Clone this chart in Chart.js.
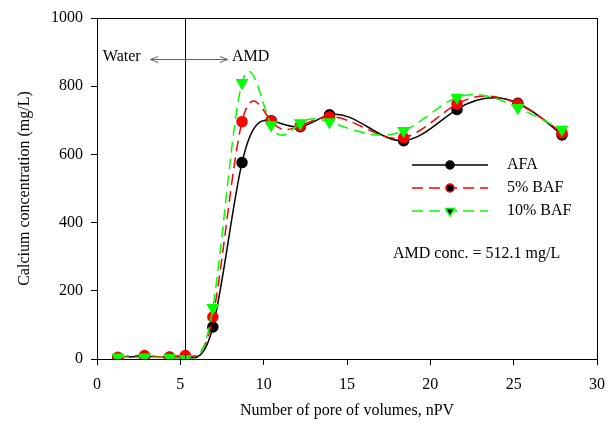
<!DOCTYPE html>
<html>
<head>
<meta charset="utf-8">
<script src="https://cdn.jsdelivr.net/npm/chart.js@4/dist/chart.umd.min.js"></script>
<style>
  html, body { margin: 0; padding: 0; background: #fff; }
  #wrap { width: 615px; height: 428px; position: relative; }
</style>
</head>
<body>
<div id="wrap"><canvas id="calciumChart"></canvas></div>
<script>
// pore volumes sampled
const nPV = [1.25, 2.85, 4.35, 5.3, 6.95, 8.7, 10.45, 12.2, 13.95, 18.4, 21.6, 25.25, 27.9];
// calcium concentration (mg/L)
const afa   = [3, 8, 5, 6, 94, 576, 699, 681, 716, 640, 732, 750, 657];
const baf5  = [5, 10, 6, 10, 123, 696, 697, 684, 710, 649, 748, 748, 663];
const baf10 = [5, 5, 4, 0, 150, 810, 686, 692, 695, 669, 767, 737, 673];

const seriesNames = ['AFA', '5% BAF', '10% BAF'];
const xTicks = [0, 5, 10, 15, 20, 25, 30];
const yTicks = [0, 200, 400, 600, 800, 1000];

const switchPV = 5.3;       // water -> AMD switch
const amdConc = 512.1;

const FONT = 'Liberation Serif, Times New Roman, serif';

function toPoints(ys) {
  return nPV.map((x, i) => ({ x: x, y: ys[i] }));
}

// first derivatives of a natural cubic spline through (xs, ys)
function splineSlopes(xs, ys) {
  const n = xs.length;
  const h = [], d = [];
  for (let i = 0; i < n - 1; i++) {
    h.push(xs[i + 1] - xs[i]);
    d.push((ys[i + 1] - ys[i]) / h[i]);
  }
  // solve for second derivatives, M[0] = M[n-1] = 0
  const M = new Array(n).fill(0);
  const a = [], b = [], c = [], r = [];
  for (let i = 1; i < n - 1; i++) {
    a.push(h[i - 1]);
    b.push(2 * (h[i - 1] + h[i]));
    c.push(h[i]);
    r.push(6 * (d[i] - d[i - 1]));
  }
  const m = a.length;
  for (let i = 1; i < m; i++) {
    const w = a[i] / b[i - 1];
    b[i] -= w * c[i - 1];
    r[i] -= w * r[i - 1];
  }
  for (let i = m - 1; i >= 0; i--) {
    M[i + 1] = (r[i] - (i < m - 1 ? c[i] * M[i + 2] : 0)) / b[i];
  }
  const s = [];
  for (let i = 0; i < n - 1; i++) {
    s.push(d[i] - h[i] * (2 * M[i] + M[i + 1]) / 6);
  }
  s.push(d[n - 2] + h[n - 2] * (M[n - 2] + 2 * M[n - 1]) / 6);
  return s;
}

// replace chart.js control points with natural spline ones
const naturalSpline = {
  id: 'naturalSpline',
  beforeDatasetDraw(chart, args) {
    const meta = args.meta;
    const line = meta.dataset;
    const pts = meta.data;
    if (!line || pts.length < 3) return;
    line.updateControlPoints(chart.chartArea, 'x');
    const slopes = splineSlopes(pts.map(p => p.x), pts.map(p => p.y));
    pts.forEach((p, i) => {
      const back = i > 0 ? (p.x - pts[i - 1].x) / 3 : 0;
      const fwd = i < pts.length - 1 ? (pts[i + 1].x - p.x) / 3 : 0;
      p.cp1x = p.x - back;
      p.cp1y = p.y - slopes[i] * back;
      p.cp2x = p.x + fwd;
      p.cp2y = p.y + slopes[i] * fwd;
    });
    line._path = undefined;
  }
};

const datasets = [
  {
    label: seriesNames[0],
    data: toPoints(afa),
    borderColor: '#000000',
    backgroundColor: '#000000',
    borderWidth: 1.5,
    pointStyle: 'circle',
    pointRadius: 5,
    order: 3
  },
  {
    label: seriesNames[1],
    data: toPoints(baf5),
    borderColor: '#ff0000',
    backgroundColor: '#ff0000',
    borderWidth: 1.5,
    borderDash: [11, 6],
    pointStyle: 'circle',
    pointRadius: 5,
    order: 2
  },
  {
    label: seriesNames[2],
    data: toPoints(baf10),
    borderColor: '#00ff00',
    backgroundColor: '#00ff00',
    borderWidth: 1.5,
    borderDash: [11, 6],
    pointStyle: 'triangle',
    pointRotation: 180,
    pointRadius: 6,
    order: 1
  }
];

// frame, water/AMD marker, legend and note
const extras = {
  id: 'extras',
  afterDatasetsDraw(chart) {
    const { ctx, chartArea: a, scales: { x, y } } = chart;
    ctx.save();

    // box around plot
    ctx.strokeStyle = '#000';
    ctx.lineWidth = 1;
    ctx.strokeRect(a.left + 0.5, a.top + 0.5, a.right - a.left, a.bottom - a.top);

    // switch line
    const sx = Math.round(x.getPixelForValue(switchPV)) + 0.5;
    ctx.beginPath();
    ctx.moveTo(sx, a.top);
    ctx.lineTo(sx, a.bottom);
    ctx.stroke();

    // double arrow
    const ay = Math.round(y.getPixelForValue(880)) + 0.5;
    const ax1 = x.getPixelForValue(3.2);
    const ax2 = x.getPixelForValue(7.85);
    ctx.strokeStyle = '#666';
    ctx.beginPath();
    ctx.moveTo(ax1, ay);
    ctx.lineTo(ax2, ay);
    ctx.moveTo(ax1 + 8, ay - 3);
    ctx.lineTo(ax1, ay);
    ctx.lineTo(ax1 + 8, ay + 3);
    ctx.moveTo(ax2 - 8, ay - 3);
    ctx.lineTo(ax2, ay);
    ctx.lineTo(ax2 - 8, ay + 3);
    ctx.stroke();

    ctx.fillStyle = '#000';
    ctx.font = '16px ' + FONT;
    ctx.textBaseline = 'middle';
    ctx.textAlign = 'left';
    ctx.fillText('Water', x.getPixelForValue(0.35), ay - 3);
    ctx.fillText('AMD', x.getPixelForValue(8.1), ay - 3);

    // legend
    chart.data.datasets.forEach((ds, i) => {
      const ly = 165 + i * 23;
      ctx.save();
      ctx.strokeStyle = ds.borderColor;
      ctx.lineWidth = ds.borderWidth;
      ctx.setLineDash(ds.borderDash || []);
      ctx.beginPath();
      ctx.moveTo(412, ly);
      ctx.lineTo(488, ly);
      ctx.stroke();
      ctx.setLineDash([]);
      Chart.helpers.drawPoint(ctx, {
        pointStyle: ds.pointStyle,
        rotation: ds.pointRotation || 0,
        radius: ds.pointRadius - 1,
        borderWidth: 1
      }, 450, ly);
      ctx.restore();
      ctx.fillStyle = '#000';
      ctx.fillText(ds.label, 507, ly);
    });

    ctx.fillText('AMD conc. = ' + amdConc + ' mg/L', 393, 254);
    ctx.restore();
  }
};

new Chart(document.getElementById('calciumChart'), {
  type: 'line',
  data: { datasets: datasets },
  options: {
    responsive: true,
    maintainAspectRatio: false,
    animation: false,
    layout: { padding: { top: 18, right: 17, left: 0, bottom: 0 } },
    plugins: {
      legend: { display: false },
      tooltip: { enabled: false }
    },
    elements: {
      line: { tension: 0.4 },
      point: { borderWidth: 1 }
    },
    scales: {
      x: {
        type: 'linear',
        min: 0,
        max: 30,
        afterBuildTicks: (s) => { s.ticks = xTicks.map(v => ({ value: v })); },
        afterFit: (s) => { s.height = 69; },
        grid: {
          drawOnChartArea: false,
          tickLength: 6,
          color: '#000'
        },
        border: { color: '#000', width: 1 },
        ticks: {
          color: '#000',
          padding: 10,
          callback: (v) => String(v),
          font: { family: FONT, size: 16 }
        },
        title: {
          display: true,
          text: 'Number of pore of volumes, nPV',
          color: '#000',
          padding: { top: 4, bottom: 8 },
          font: { family: FONT, size: 16 }
        }
      },
      y: {
        min: 0,
        max: 1000,
        afterBuildTicks: (s) => { s.ticks = yTicks.map(v => ({ value: v })); },
        afterFit: (s) => { s.width = 97; },
        grid: {
          drawOnChartArea: false,
          tickLength: 6,
          color: '#000'
        },
        border: { color: '#000', width: 1 },
        ticks: {
          color: '#000',
          padding: 8,
          callback: (v) => String(v),
          font: { family: FONT, size: 16 }
        },
        title: {
          display: true,
          text: 'Calcium concentration (mg/L)',
          color: '#000',
          padding: { top: 15, bottom: 0 },
          font: { family: FONT, size: 16 }
        }
      }
    }
  },
  plugins: [naturalSpline, extras]
});
</script>
</body>
</html>
